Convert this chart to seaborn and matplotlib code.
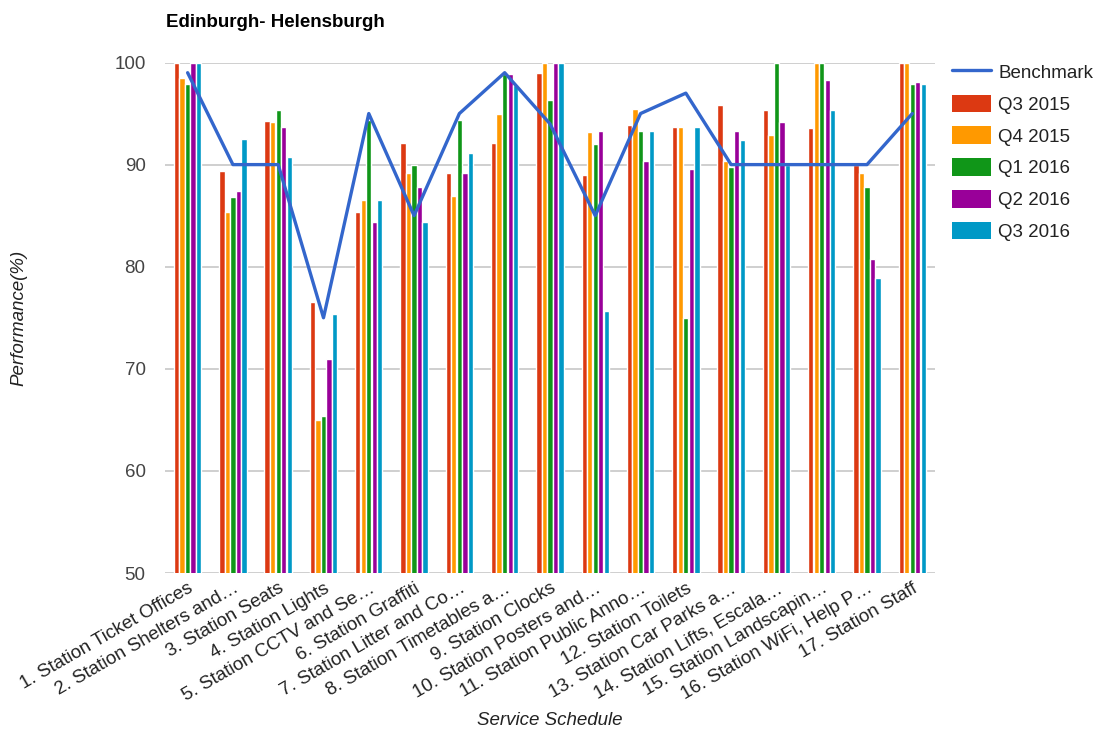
import numpy as np
import pandas as pd
import matplotlib
matplotlib.use("Agg")
import matplotlib.pyplot as plt
from matplotlib.lines import Line2D
from matplotlib.patches import Patch
import seaborn as sns

categories = [
    "1. Station Ticket Offices", "2. Station Shelters and\u2026", "3. Station Seats",
    "4. Station Lights", "5. Station CCTV and Se\u2026", "6. Station Graffiti",
    "7. Station Litter and Co\u2026", "8. Station Timetables a\u2026", "9. Station Clocks",
    "10. Station Posters and\u2026", "11. Station Public Anno\u2026", "12. Station Toilets",
    "13. Station Car Parks a\u2026", "14. Station Lifts, Escala\u2026",
    "15. Station Landscapin\u2026", "16. Station WiFi, Help P\u2026", "17. Station Staff",
]
benchmark = [99, 90, 90, 75, 95, 85, 95, 99, 94, 85, 95, 97, 90, 90, 90, 90, 95]
q3_2015 = [100, 89.4, 94.3, 76.5, 85.4, 92.1, 89.2, 92.1, 99.0, 89.0, 93.9, 93.7, 95.8, 95.3, 93.6, 90.0, 100]
q4_2015 = [98.5, 85.4, 94.2, 65.0, 86.5, 89.2, 86.9, 95.0, 100, 93.2, 95.4, 93.7, 90.4, 92.9, 100, 89.2, 100]
q1_2016 = [97.9, 86.8, 95.3, 65.4, 94.4, 90.0, 94.4, 98.9, 96.3, 92.0, 93.3, 75.0, 89.8, 100, 100, 87.8, 97.9]
q2_2016 = [100, 87.4, 93.7, 71.0, 84.4, 87.8, 89.2, 98.9, 100, 93.3, 90.4, 89.6, 93.3, 94.2, 98.3, 80.8, 98.1]
q3_2016 = [100, 92.5, 90.7, 75.4, 86.5, 84.4, 91.1, 97.8, 100, 75.7, 93.3, 93.7, 92.4, 90.0, 95.3, 78.9, 97.9]

quarters = ["Q3 2015", "Q4 2015", "Q1 2016", "Q2 2016", "Q3 2016"]
series = [q3_2015, q4_2015, q1_2016, q2_2016, q3_2016]
colors = ["#dc3912", "#ff9900", "#109618", "#990099", "#0099c6"]
line_color = "#3366cc"

df = pd.DataFrame({
    "Schedule": categories * len(quarters),
    "Quarter": np.repeat(quarters, len(categories)),
    "Performance": np.concatenate(series),
})

sns.set_theme(style="white")
plt.rcParams["font.family"] = ["Liberation Sans", "DejaVu Sans"]

FS = 13.5

fig = plt.figure(figsize=(11.02, 7.31), dpi=100)
ax = fig.add_axes([0.1497, 0.2161, 0.6987, 0.6984])

sns.barplot(data=df, x="Schedule", y="Performance", hue="Quarter",
            hue_order=quarters, palette=colors, width=0.61, gap=0.04,
            saturation=1, legend=False, ax=ax, zorder=2)
sns.lineplot(x=np.arange(len(categories)), y=benchmark, color=line_color,
             linewidth=2.4, ax=ax, zorder=4)

ax.set_ylim(50, 100)
ax.set_xlim(-0.5, len(categories) - 0.5)
ax.set_yticks([50, 60, 70, 80, 90, 100])
ax.yaxis.grid(True, color="#cccccc", linewidth=1.3, zorder=0)
ax.set_axisbelow(True)
for s in ax.spines.values():
    s.set_visible(False)
ax.tick_params(axis="y", length=0, pad=14, labelsize=FS, labelcolor="#444444")
ax.tick_params(axis="x", length=0, pad=5, labelsize=FS, labelcolor="#222222")
plt.setp(ax.get_xticklabels(), rotation=30, ha="right", rotation_mode="anchor")

ax.set_xlabel("Service Schedule", fontsize=FS, style="italic", color="#222222")
ax.set_ylabel("Performance(%)", fontsize=FS, style="italic", color="#222222")
ax.xaxis.set_label_coords(0.5, -0.272)
ax.yaxis.set_label_coords(-0.178, 0.5)

fig.text(0.1506, 0.969, "Edinburgh- Helensburgh", fontsize=13.5, fontweight="bold",
         color="#000000", ha="left", va="center")

handles = [Line2D([0], [0], color=line_color, linewidth=2.4)]
handles += [Patch(facecolor=c, edgecolor="none") for c in colors]
labels = ["Benchmark"] + quarters
fig.legend(handles, labels, loc="upper left", bbox_to_anchor=(0.864, 0.914),
           frameon=False, fontsize=FS, handlelength=2.08, handleheight=1.07,
           labelspacing=0.67, handletextpad=0.37, labelcolor="#222222",
           borderaxespad=0, borderpad=0)

fig.savefig("out.png", dpi=100)
